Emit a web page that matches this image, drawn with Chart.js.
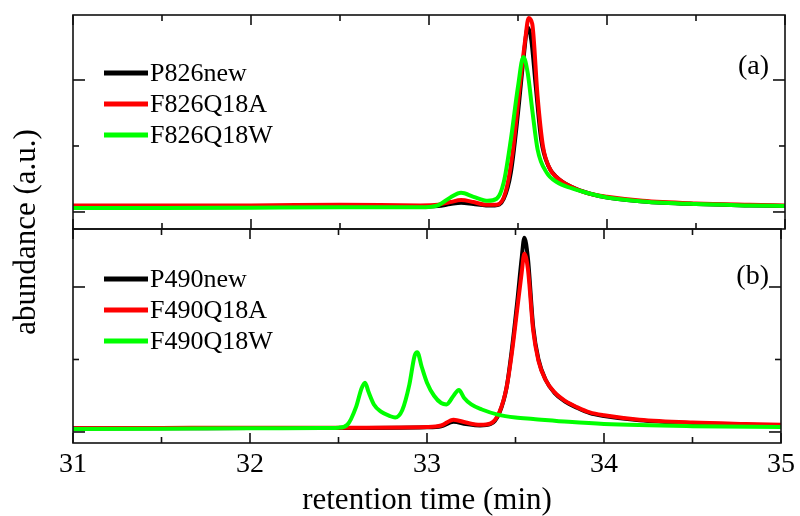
<!DOCTYPE html>
<html>
<head>
<meta charset="utf-8">
<script src="https://cdn.jsdelivr.net/npm/chart.js@4/dist/chart.umd.min.js"></script>
<style>
    body { margin: 0; background: #fff; }
    #wrap { position: relative; width: 800px; height: 516px; }
    #wrap canvas { position: absolute; left: 0; top: 0; }
</style>
</head>
<body>
<div id="wrap">
    <canvas id="topChart" width="800" height="516"></canvas>
    <canvas id="bottomChart" width="800" height="516"></canvas>
</div>
<script>
// Data
const xTickValues = [31, 31.5, 32, 32.5, 33, 33.5, 34, 34.5, 35];
const yTickValues = [0, 1, 2];

// Panel (a)
const labelsTop = ["P826new", "F826Q18A", "F826Q18W"];
const timeTopBlack = [31.0, 31.5, 32.0, 32.5, 32.95, 33.05, 33.12, 33.18, 33.25, 33.32, 33.37, 33.42, 33.46, 33.5, 33.53, 33.555, 33.575, 33.6, 33.63, 33.67, 33.72, 33.8, 33.9, 34.0, 34.2, 34.5, 34.8, 35.0];
const abundTopBlack = [0.07, 0.07, 0.075, 0.08, 0.08, 0.09, 0.12, 0.14, 0.12, 0.10, 0.10, 0.2, 0.6, 1.5, 2.3, 2.8, 2.6, 1.9, 1.1, 0.7, 0.52, 0.38, 0.28, 0.22, 0.16, 0.12, 0.1, 0.09];
const timeTopRed = [31.0, 31.5, 32.0, 32.5, 32.95, 33.05, 33.12, 33.18, 33.25, 33.32, 33.38, 33.43, 33.47, 33.51, 33.54, 33.56, 33.58, 33.61, 33.64, 33.68, 33.72, 33.8, 33.9, 34.0, 34.2, 34.5, 34.8, 35.0];
const abundTopRed = [0.1, 0.1, 0.1, 0.11, 0.10, 0.11, 0.15, 0.18, 0.15, 0.11, 0.11, 0.3, 0.9, 1.9, 2.6, 2.94, 2.85, 1.75, 1.0, 0.65, 0.52, 0.38, 0.28, 0.23, 0.17, 0.13, 0.11, 0.1];
const timeTopGreen = [31.0, 31.5, 32.0, 32.5, 32.95, 33.05, 33.12, 33.18, 33.25, 33.33, 33.38, 33.42, 33.46, 33.5, 33.53, 33.555, 33.58, 33.61, 33.66, 33.72, 33.8, 33.9, 34.0, 34.2, 34.5, 34.8, 35.0];
const abundTopGreen = [0.06, 0.06, 0.065, 0.07, 0.07, 0.1, 0.22, 0.29, 0.23, 0.17, 0.2, 0.45, 1.1, 1.9, 2.35, 2.1, 1.55, 0.95, 0.6, 0.45, 0.36, 0.28, 0.22, 0.16, 0.12, 0.1, 0.09];

// Panel (b)
const labelsBottom = ["P490new", "F490Q18A", "F490Q18W"];
const timeBottom = [31.0, 31.5, 32.0, 32.5, 33.0, 33.08, 33.15, 33.22, 33.3, 33.36, 33.41, 33.45, 33.48, 33.51, 33.535, 33.55, 33.57, 33.6, 33.63, 33.67, 33.72, 33.78, 33.85, 33.92, 34.0, 34.2, 34.5, 34.8, 35.0];
const abundBottomBlack = [0.05, 0.05, 0.055, 0.055, 0.065, 0.08, 0.14, 0.11, 0.09, 0.11, 0.27, 0.62, 1.15, 1.8, 2.4, 2.68, 2.4, 1.45, 1.0, 0.72, 0.54, 0.42, 0.33, 0.26, 0.22, 0.16, 0.12, 0.1, 0.09];
const abundBottomRed = [0.05, 0.055, 0.06, 0.06, 0.07, 0.09, 0.17, 0.13, 0.10, 0.12, 0.28, 0.62, 1.1, 1.7, 2.2, 2.46, 2.25, 1.4, 0.98, 0.72, 0.55, 0.43, 0.34, 0.27, 0.23, 0.17, 0.13, 0.11, 0.1];
const timeBottomGreen = [31.0, 31.5, 32.0, 32.4, 32.5, 32.55, 32.6, 32.63, 32.65, 32.67, 32.7, 32.74, 32.79, 32.82, 32.86, 32.9, 32.93, 32.945, 32.97, 33.0, 33.04, 33.08, 33.11, 33.15, 33.18, 33.21, 33.25, 33.31, 33.4, 33.5, 33.6, 33.8, 34.0, 34.5, 35.0];
const abundBottomGreen = [0.04, 0.045, 0.05, 0.055, 0.06, 0.1, 0.35, 0.6, 0.68, 0.55, 0.38, 0.28, 0.22, 0.2, 0.3, 0.65, 1.05, 1.1, 0.9, 0.68, 0.5, 0.4, 0.38, 0.5, 0.58, 0.47, 0.38, 0.31, 0.24, 0.2, 0.18, 0.14, 0.11, 0.08, 0.07];

const colors = ["#000000", "#ff0000", "#00ff00"];
const serif = "Liberation Serif";

function points(xs, ys) {
    return xs.map((x, i) => ({ x: x, y: ys[i] }));
}

function makeSets(labels, series) {
    return series.map((s, i) => ({
        label: labels[i],
        data: points(s[0], s[1]),
        borderColor: colors[i],
        borderWidth: 4,
        pointRadius: 0,
        fill: false,
        cubicInterpolationMode: "monotone",
        order: 2 - i,
    }));
}

// frame with inward ticks, legend lines and panel tag
const panelDeco = {
    id: "panelDeco",
    afterDraw(chart, args, opts) {
        const { ctx, chartArea: a, scales } = chart;
        const line = (x1, y1, x2, y2) => {
            ctx.beginPath();
            ctx.moveTo(x1, y1);
            ctx.lineTo(x2, y2);
            ctx.stroke();
        };
        ctx.save();
        ctx.strokeStyle = "#111";
        ctx.lineWidth = 1.6;
        ctx.strokeRect(a.left, a.top, a.right - a.left, a.bottom - a.top);
        xTickValues.forEach((v) => {
            const px = scales.x.getPixelForValue(v);
            const len = Number.isInteger(v) ? 10 : 6;
            line(px, a.bottom, px, a.bottom - len);
            line(px, a.top, px, a.top + len);
        });
        yTickValues.forEach((v) => {
            const py = scales.y.getPixelForValue(v);
            const len = v % 2 === 0 ? 12 : 6;
            line(a.left, py, a.left + len, py);
            line(a.right, py, a.right - len, py);
        });

        // legend
        ctx.font = "26px " + serif;
        ctx.textBaseline = "middle";
        ctx.textAlign = "left";
        ctx.lineWidth = 5;
        chart.data.datasets.forEach((ds, i) => {
            const y = a.top + opts.legendTop + i * 31;
            ctx.strokeStyle = ds.borderColor;
            line(104, y, 148, y);
            ctx.fillStyle = "#000";
            ctx.fillText(ds.label, 150, y + 1);
        });

        // panel tag
        ctx.font = "28px " + serif;
        ctx.textAlign = "right";
        ctx.fillText(opts.tag, 769, a.top + opts.tagTop);

        if (opts.yTitle) {
            ctx.translate(27, 232);
            ctx.rotate(-Math.PI / 2);
            ctx.textAlign = "center";
            ctx.font = "31px " + serif;
            ctx.fillText(opts.yTitle, 0, 0);
        }
        ctx.restore();
    },
};

const hiddenY = (min, max) => ({
    type: "linear",
    display: false,
    min: min,
    max: max,
});

// Top panel (a)
new Chart(document.getElementById("topChart"), {
    type: "line",
    data: {
        datasets: makeSets(labelsTop, [
            [timeTopBlack, abundTopBlack],
            [timeTopRed, abundTopRed],
            [timeTopGreen, abundTopGreen],
        ]),
    },
    options: {
        responsive: false,
        animation: false,
        layout: { padding: { left: 73, right: 15, top: 15, bottom: 287 } },
        scales: {
            x: { type: "linear", display: false, min: 31, max: 35 },
            y: hiddenY(-0.258, 2.985),
        },
        plugins: {
            legend: { display: false },
            tooltip: { enabled: false },
            panelDeco: { legendTop: 58, tag: "(a)", tagTop: 52, yTitle: "abundance (a.u.)" },
        },
    },
    plugins: [panelDeco],
});

// Bottom panel (b)
new Chart(document.getElementById("bottomChart"), {
    type: "line",
    data: {
        datasets: makeSets(labelsBottom, [
            [timeBottom, abundBottomBlack],
            [timeBottom, abundBottomRed],
            [timeBottomGreen, abundBottomGreen],
        ]),
    },
    options: {
        responsive: false,
        animation: false,
        layout: { padding: { left: 73, right: 15, top: 229, bottom: 0 } },
        scales: {
            x: {
                type: "linear",
                min: 31,
                max: 35,
                afterFit: (s) => {
                    s.height = 73;
                },
                grid: { display: false, drawTicks: false },
                border: { display: false },
                ticks: {
                    stepSize: 1,
                    color: "#000",
                    padding: 5,
                    font: { family: serif, size: 28 },
                },
                title: {
                    display: true,
                    text: "retention time (min)",
                    color: "#000",
                    padding: { top: 0, bottom: 0 },
                    font: { family: serif, size: 31, lineHeight: 1 },
                },
            },
            y: hiddenY(-0.152, 2.8),
        },
        plugins: {
            legend: { display: false },
            tooltip: { enabled: false },
            panelDeco: { legendTop: 50, tag: "(b)", tagTop: 48 },
        },
    },
    plugins: [panelDeco],
});
</script>
</body>
</html>
